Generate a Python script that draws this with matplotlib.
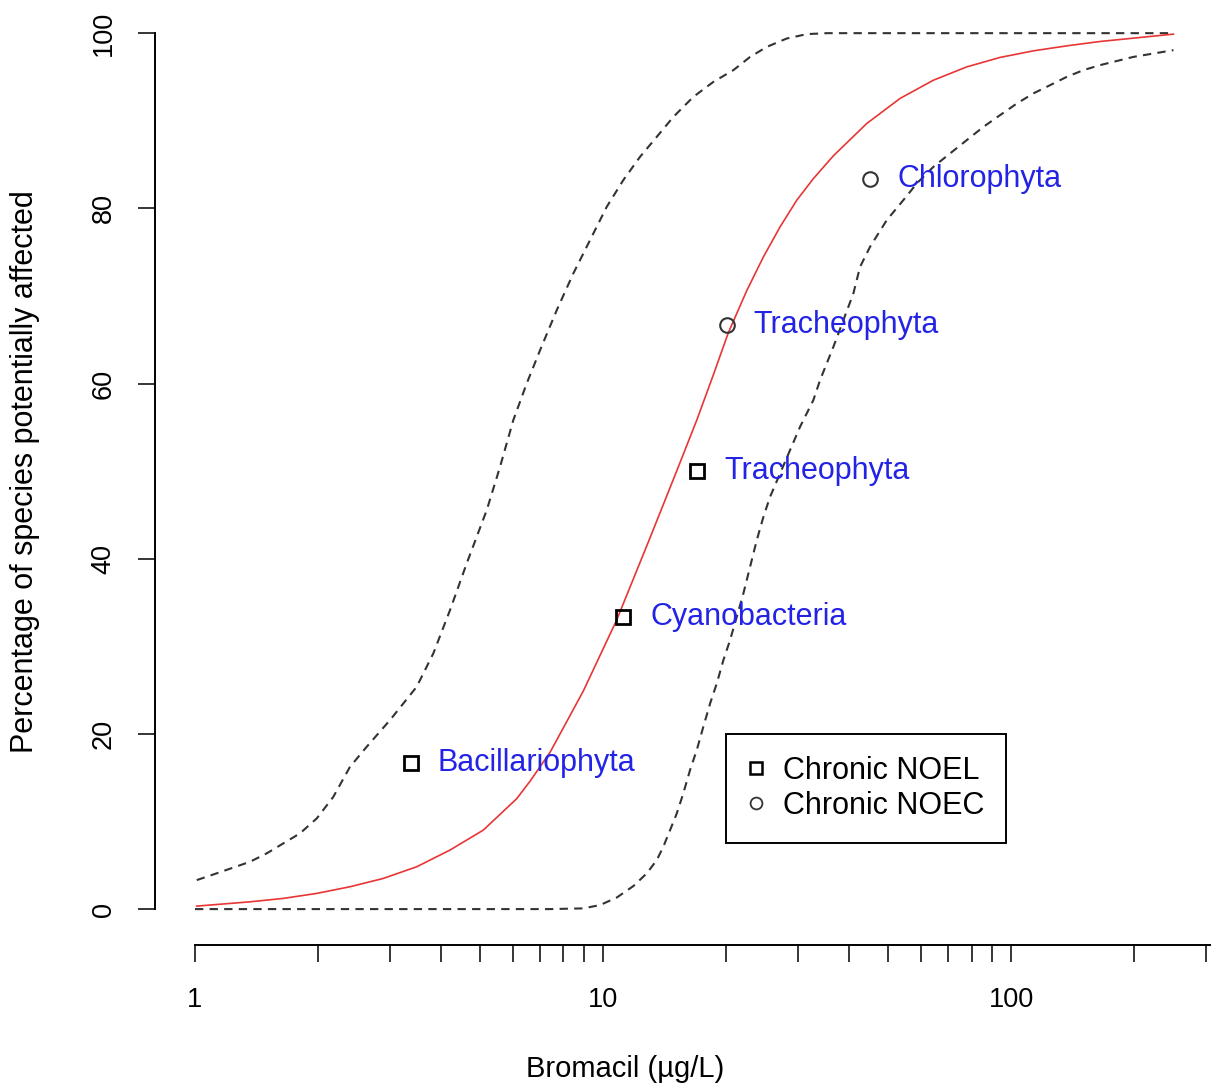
import matplotlib
matplotlib.use("Agg")
import matplotlib.pyplot as plt
from matplotlib.ticker import NullFormatter, FixedLocator
from matplotlib.lines import Line2D

plt.rcParams['font.family'] = ['Liberation Sans', 'DejaVu Sans']

# fitted SSD curve
red_x = [1.01, 1.364, 1.646, 1.988, 2.398, 2.894, 3.494, 4.217, 5.089, 6.143,
         6.624, 7.417, 8.948, 10.80, 13.04, 15.16, 16.97, 18.64, 20.28, 22.50,
         24.72, 27.16, 29.85, 32.78, 36.69, 44.30, 53.46, 64.51, 77.88, 93.97,
         113.4, 136.9, 165.2, 199.4, 250.0]
red_y = [0.34, 0.83, 1.22, 1.79, 2.55, 3.50, 4.83, 6.74, 9.02, 12.6,
         14.6, 17.9, 24.9, 33.0, 42.4, 50.03, 55.82, 61.0, 65.8, 70.6,
         74.46, 77.89, 80.94, 83.4, 86.0, 89.69, 92.55, 94.63, 96.15, 97.23,
         97.98, 98.55, 99.05, 99.43, 99.89]

# upper confidence band
upper_x = [1.01, 1.130, 1.364, 1.499, 1.646, 1.808, 1.988, 2.183, 2.398, 2.635,
           3.006, 3.494, 3.838, 4.217, 4.633, 5.188, 5.592, 6.027, 6.501, 7.010,
           7.702, 8.457, 9.292, 10.21, 11.21, 12.32, 13.54, 14.87, 16.65, 18.64,
           20.87, 22.93, 25.19, 28.20, 31.57, 35.35, 250.0]
upper_y = [3.31, 4.08, 5.40, 6.36, 7.50, 8.64, 10.35, 12.82, 16.24, 18.53,
           21.58, 25.38, 29.19, 34.13, 39.46, 45.55, 50.49, 55.82, 60.01, 63.81,
           68.38, 72.57, 76.37, 80.17, 83.22, 85.88, 88.16, 90.44, 92.73, 94.44,
           95.78, 97.29, 98.43, 99.39, 99.89, 100, 100]

# lower confidence band
lower_x = [1.00, 7.417, 8.948, 9.832, 10.80, 11.87, 12.80, 13.54, 14.05, 14.60,
           15.16, 15.73, 16.34, 16.97, 17.61, 18.30, 19.00, 19.72, 20.48, 21.27,
           22.08, 22.93, 23.81, 24.72, 25.67, 27.16, 28.73, 30.40, 32.77, 34.03,
           36.69, 38.82, 41.07, 42.65, 45.12, 49.58, 54.45, 58.74, 64.51, 70.88,
           77.88, 85.53, 93.97, 103.3, 113.4, 124.6, 136.9, 150.4, 165.2, 199.4, 250.0]
lower_y = [0, 0, 0.08, 0.46, 1.31, 2.63, 4.08, 5.59, 7.11, 9.02,
           10.92, 13.21, 15.87, 18.15, 20.81, 23.48, 25.76, 28.42, 30.71, 33.37,
           36.04, 39.08, 42.12, 44.78, 47.07, 49.74, 52.40, 55.06, 58.11, 60.39,
           64.19, 67.24, 70.29, 73.32, 75.61, 78.65, 80.94, 82.84, 84.74, 86.27,
           87.79, 89.30, 90.64, 91.97, 93.12, 94.06, 95.01, 95.78, 96.35, 97.29, 98.06]

# species data points
species = ["Bacillariophyta", "Cyanobacteria", "Tracheophyta", "Tracheophyta", "Chlorophyta"]
conc = [3.38, 11.2, 17.0, 20.1, 45.1]
pct = [16.67, 33.33, 50.0, 66.67, 83.33]
kind = ["NOEL", "NOEL", "NOEL", "NOEC", "NOEC"]

yticks = [0, 20, 40, 60, 80, 100]
xticks = [1, 10, 100]
xminor = [2, 3, 4, 5, 6, 7, 8, 9, 20, 30, 40, 50, 60, 70, 80, 90, 200, 300]

W, H = 1211, 1087
fig = plt.figure(figsize=(W / 100, H / 100), dpi=100)
ax = fig.add_axes([155 / W, (H - 945) / H, (W - 155) / W, 946 / H])

ax.plot(red_x, red_y, color='#e83535', lw=1.2, zorder=3)
ax.plot(upper_x, upper_y, color='#333333', lw=1.5, linestyle=(0, (4, 3)), zorder=2)
ax.plot(lower_x, lower_y, color='#333333', lw=1.5, linestyle=(0, (4, 3)), zorder=2)

for s, x, y, k in zip(species, conc, pct, kind):
    if k == "NOEL":
        ax.plot(x, y, marker='s', ms=9.5, mfc='none', mec='black', mew=2, zorder=4)
    else:
        ax.plot(x, y, marker='o', ms=10.5, mfc='none', mec='#333333', mew=1.5, zorder=4)
    ax.annotate(s, (x, y), xytext=(19.5, 0), textcoords='offset points',
                ha='left', va='center', fontsize=22, color='#2323e6')

ax.set_xscale('log')
ax.set_xlim(0.798, 309)
ax.set_ylim(-4.1, 103.9)

ax.xaxis.set_major_locator(FixedLocator(xticks))
ax.set_xticklabels([str(v) for v in xticks])
ax.xaxis.set_minor_locator(FixedLocator(xminor))
ax.xaxis.set_minor_formatter(NullFormatter())
ax.set_yticks(yticks)
ax.set_yticklabels([str(v) for v in yticks], rotation=90, va='center')

for sp in ['top', 'right']:
    ax.spines[sp].set_visible(False)
ax.spines['left'].set_bounds(0, 100)
ax.spines['bottom'].set_bounds(1, 309)
for sp in ['left', 'bottom']:
    ax.spines[sp].set_linewidth(1.4)

ax.tick_params(axis='both', which='both', length=12.2, width=1.1, labelsize=19.5)
ax.tick_params(axis='y', pad=15.5)
ax.tick_params(axis='x', which='both', pad=18)

handles = [Line2D([], [], ls='none', marker='s', ms=8, mfc='none', mec='black', mew=1.8),
           Line2D([], [], ls='none', marker='o', ms=8.5, mfc='none', mec='#333333', mew=1.3)]
leg = ax.legend(handles, ["Chronic NOEL", "Chronic NOEC"], loc='upper left',
                bbox_to_anchor=(20, 20), bbox_transform=ax.transData,
                borderaxespad=0, fancybox=False, framealpha=1, edgecolor='black',
                fontsize=22, borderpad=0.72, labelspacing=0.17, handlelength=0.5,
                handletextpad=0.65)
leg.get_frame().set_linewidth(1.4)

fig.text(25 / W, 1 - 472 / H, "Percentage of species potentially affected",
         rotation=90, ha='center', va='center', fontsize=22)
fig.text(625.5 / W, 1 - 1069 / H, "Bromacil (µg/L)", ha='center', va='center', fontsize=21)

fig.savefig("out.png", dpi=100)
